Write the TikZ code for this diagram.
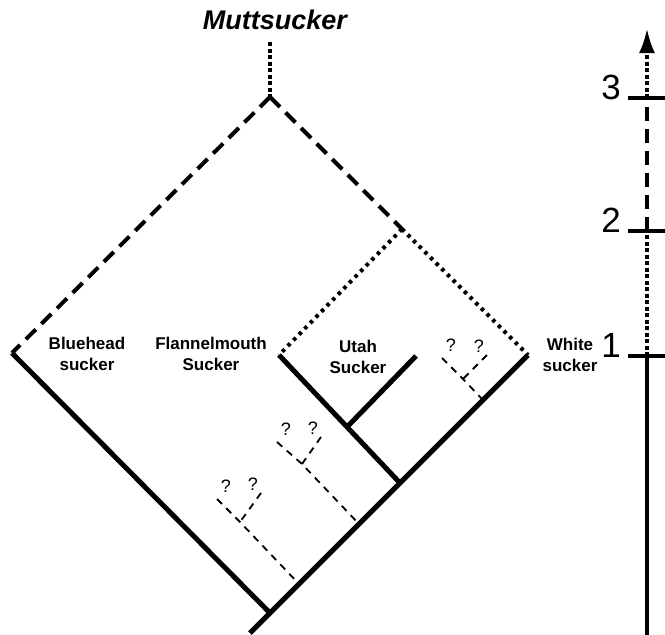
\documentclass[tikz,border=0pt]{standalone}
\usepackage{fontspec}
\setmainfont{Liberation Sans}
\usetikzlibrary{arrows.meta}

\begin{document}
\begin{tikzpicture}
[%%%%%%%%%%%%%%%%%%%%%%%%%%%%%%
x=1pt,y=-1pt,
lineage/.style={line width=5pt},
hybrid/.style={line width=4pt,dash pattern=on 14pt off 8pt},
dotline/.style={line width=4pt,dash pattern=on 3.5pt off 4.5pt},
densedots/.style={line width=4pt,dash pattern=on 4pt off 2.5pt},
unknown/.style={line width=1.8pt,dash pattern=on 7pt off 6pt},
tickmark/.style={line width=4pt},
taxon/.style={align=center,inner sep=0pt,font=\fontsize{17}{21}\selectfont\bfseries},
qmark/.style={inner sep=0pt,font=\fontsize{18}{18}\selectfont},
digit/.style={inner sep=0pt,font=\fontsize{35}{35}\selectfont},
]%%%%%%%%%%%%%%%%%%%%%%%%%%%%%%
\useasboundingbox (0,0) rectangle (665,635);

\coordinate (top) at (270,42);
\coordinate (apex) at (270,97);
\coordinate (blue) at (12,353);
\coordinate (split) at (402,229);
\coordinate (flan) at (279,355);
\coordinate (white) at (528,355);
\coordinate (utah) at (416,356);
\coordinate (fu) at (347,427);
\coordinate (fuw) at (400,483);
\coordinate (root) at (270,613);
\coordinate (base) at (250,633);

\draw[densedots] (top) -- (apex);
\draw[hybrid] (apex) -- (blue);
\draw[hybrid] (apex) -- (split);
\draw[dotline] (split) -- (flan);
\draw[dotline] (split) -- (white);
\draw[lineage] (blue) -- (root);
\draw[lineage] (white) -- (base);
\draw[lineage] (flan) -- (fuw);
\draw[lineage] (fu) -- (utah);

\foreach \g/\lx/\ly/\jx/\jy/\rx/\ry/\ex/\ey in
{1/442/358/463/379/487/355/483/400,
2/277/442/302/464/321/437/359/524,
3/217/499/240/522/261/493/299/584}{
\coordinate (l\g) at (\lx,\ly);
\coordinate (j\g) at (\jx,\jy);
\coordinate (r\g) at (\rx,\ry);
\coordinate (e\g) at (\ex,\ey);
\draw[unknown] (l\g) -- (j\g) -- (e\g);
\draw[unknown] (r\g) -- (j\g);
\node[qmark] (qa\g) at ([shift={(9,-13)}]l\g) {?};
\node[qmark] (qb\g) at ([shift={(-8,-9)}]r\g) {?};
}

\node[font=\fontsize{27}{27}\selectfont\bfseries\itshape,inner sep=0pt] (mutt) at (275,20) {Muttsucker};
\node[taxon] (bluehead) at (87,354) {Bluehead\\sucker};
\node[taxon] (flannel) at (211,354) {Flannelmouth\\Sucker};
\node[taxon] (utahlab) at (358,357) {Utah\\Sucker};
\node[taxon] (whitelab) at (570,355) {White\\sucker};

% time axis
\coordinate (t0) at (647,635);
\coordinate (t1) at (647,356);
\coordinate (t2) at (647,231);
\coordinate (t3) at (647,98);
\coordinate (tip) at (647,28);
\draw[lineage,line width=4pt] (t0) -- (t1);
\draw[densedots] (t1) -- (t2);
\draw[hybrid] (t2) -- (t3);
\draw[densedots,-{Latex[length=25pt,width=16pt]}] (t3) -- (tip);
\foreach \n in {1,2,3}{
\coordinate (ta\n) at ([xshift=-19pt]t\n);
\coordinate (tb\n) at ([xshift=18pt]t\n);
\draw[tickmark] (ta\n) -- (tb\n);
\node[digit,anchor=base east] (lab\n) at ([xshift=-7pt,yshift=-1pt]ta\n) {\n};
}
\end{tikzpicture}
\end{document}
